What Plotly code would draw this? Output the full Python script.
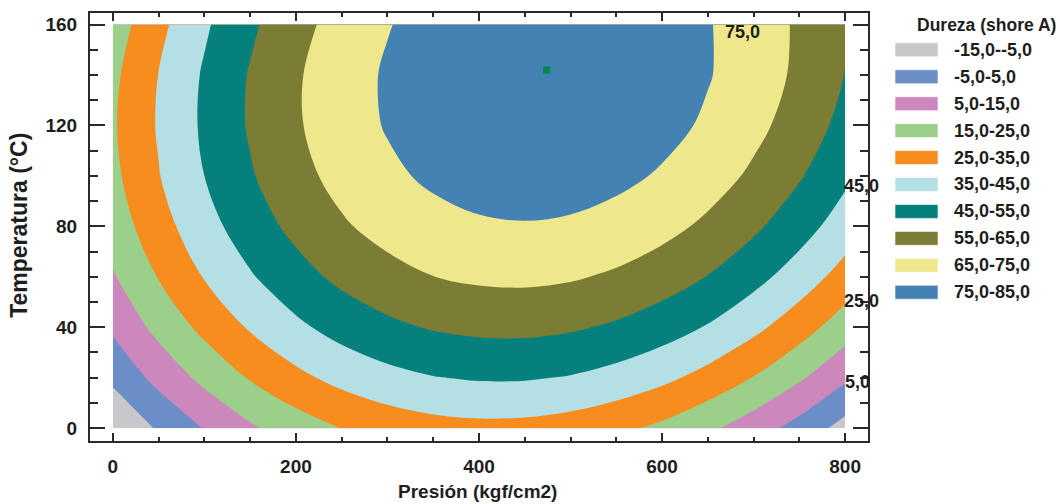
import plotly.graph_objects as go

# Response surface grid: hardness (Shore A) vs pressure and temperature
presion = [0, 50, 100, 150, 200, 250, 300, 350, 400, 450, 500, 550, 600, 650, 700, 750, 800]
temperatura = [0, 20, 40, 60, 80, 100, 120, 140, 160]
dureza = [
    [-14.4, -3.8, 5.5, 13.5, 20.0, 25.2, 29.0, 31.4, 32.4, 32.1, 30.4, 27.3, 22.9, 17.0, 9.8, 1.3, -8.7],
    [-2.8, 8.1, 17.6, 25.8, 32.6, 38.0, 42.0, 44.6, 45.9, 45.8, 44.4, 41.5, 37.3, 31.7, 24.7, 16.4, 6.7],
    [6.7, 17.9, 27.6, 36.0, 43.0, 48.7, 52.9, 55.8, 57.3, 57.5, 56.2, 53.6, 49.6, 44.3, 37.5, 29.4, 19.9],
    [14.1, 25.5, 35.5, 44.1, 51.4, 57.3, 61.7, 64.9, 66.6, 67.0, 66.0, 63.6, 59.9, 54.7, 48.2, 40.3, 31.1],
    [19.5, 31.1, 41.3, 50.2, 57.6, 63.8, 68.5, 71.8, 73.8, 74.4, 73.7, 71.5, 68.0, 63.1, 56.8, 49.2, 40.2],
    [22.7, 34.6, 45.0, 54.1, 61.8, 68.2, 73.1, 76.7, 78.9, 79.8, 79.2, 77.3, 74.0, 69.4, 63.3, 55.9, 47.1],
    [23.9, 35.9, 46.6, 56.0, 63.9, 70.5, 75.7, 79.5, 81.9, 83.0, 82.7, 81.0, 78.0, 73.6, 67.7, 60.6, 52.0],
    [22.9, 35.2, 46.1, 55.7, 63.9, 70.7, 76.1, 80.2, 82.8, 84.2, 84.1, 82.6, 79.8, 75.6, 70.1, 63.1, 54.8],
    [19.9, 32.4, 43.6, 53.3, 61.8, 68.8, 74.5, 78.8, 81.7, 83.2, 83.4, 82.2, 79.6, 75.6, 70.3, 63.6, 55.5],
]

# Band edges and band colours
niveles = [-15, -5, 5, 15, 25, 35, 45, 55, 65, 75, 85]
colores = ["#c8c8ca", "#6b8ec9", "#cc88bc", "#9ccf8a", "#f78c1f",
           "#b4e0e5", "#06807c", "#7c7d34", "#eee78b", "#4582b4"]

# Optimum point
optimo_p = [474]
optimo_t = [142]

# Contour levels that carry a label, with label anchor points
etiquetas_nivel = [75, 45, 25, 5]
etiquetas_pos = [(688, 157), (818, 96), (818, 50.5), (813, 18.3)]

FONT = "Liberation Sans, Arial, sans-serif"
INK = "#1e1e1e"


def fmt(v):
    return f"{v:.1f}".replace(".", ",")


n = len(colores)
escala = [[i / (n - 1), c] for i, c in enumerate(colores)]
paso = niveles[1] - niveles[0]

fig = go.Figure()
fig.add_trace(go.Contour(
    x=presion, y=temperatura, z=dureza,
    autocontour=False,
    contours=dict(start=niveles[1], end=niveles[-2], size=paso,
                  coloring="fill", showlines=False),
    colorscale=escala,
    line=dict(width=0, smoothing=1.0),
    showscale=False,
    hoverinfo="skip",
))
fig.add_trace(go.Scatter(
    x=optimo_p, y=optimo_t, mode="markers",
    marker=dict(symbol="square", size=7, color="#00884a"),
    showlegend=False, hoverinfo="skip",
))

annotations = []
for v, (px, py) in zip(etiquetas_nivel, etiquetas_pos):
    annotations.append(dict(x=px, y=py, xref="x", yref="y", text=fmt(v),
                            showarrow=False, xanchor="center", yanchor="middle",
                            font=dict(family=FONT, size=18, color=INK, weight="bold")))

# Axis titles
annotations.append(dict(x=0.4987, y=-0.118, xref="paper", yref="paper",
                        text="Presión (kgf/cm2)", showarrow=False,
                        xanchor="center", yanchor="middle",
                        font=dict(family=FONT, size=19, color=INK, weight="bold")))
annotations.append(dict(x=-0.0913, y=0.505, xref="paper", yref="paper",
                        text="Temperatura (°C)", showarrow=False, textangle=-90,
                        xanchor="center", yanchor="middle",
                        font=dict(family=FONT, size=23, color=INK, weight="bold")))

# Legend block
W, H = 778.0, 430.0
def xp(px):
    return (px - 90) / W
def yp(py):
    return (441 - py) / H

annotations.append(dict(x=xp(915), y=yp(23), xref="paper", yref="paper",
                        text="Dureza (shore A)", showarrow=False,
                        xanchor="left", yanchor="middle",
                        font=dict(family=FONT, size=17.5, color=INK, weight="bold")))
shapes = []
for i, c in enumerate(colores):
    cy = 48 + 27.06 * i
    shapes.append(dict(type="rect", xref="paper", yref="paper",
                       x0=xp(895), x1=xp(938), y0=yp(cy + 7), y1=yp(cy - 7),
                       fillcolor=c, line=dict(width=1, color="rgba(255,255,255,0.6)")))
    annotations.append(dict(x=xp(952), y=yp(cy), xref="paper", yref="paper",
                            text=f"{fmt(niveles[i])}-{fmt(niveles[i + 1])}",
                            showarrow=False, xanchor="left", yanchor="middle",
                            font=dict(family=FONT, size=18, color=INK, weight="bold")))

axis_common = dict(showline=True, linecolor="#2a2a2a", linewidth=2, mirror="allticks",
                   ticks="inside", tickcolor="#2a2a2a", tickwidth=2,
                   showgrid=False, zeroline=False,
                   tickfont=dict(family=FONT, size=19, color=INK, weight="bold"))

fig.update_layout(
    width=1060, height=504,
    margin=dict(l=90, r=192, t=11, b=63),
    paper_bgcolor="white", plot_bgcolor="white",
    showlegend=False,
    xaxis=dict(range=[-25, 825], tickvals=[0, 200, 400, 600, 800], ticklen=8,
               minor=dict(dtick=50, tick0=0, ticks="inside", ticklen=4,
                          tickcolor="#2a2a2a", tickwidth=1.5),
               ticklabelstandoff=7, **axis_common),
    yaxis=dict(range=[-5.1, 164.6], tickvals=[0, 40, 80, 120, 160], ticklen=15,
               minor=dict(dtick=10, tick0=0, ticks="inside", ticklen=8,
                          tickcolor="#2a2a2a", tickwidth=1.5),
               ticklabelstandoff=7, **axis_common),
    annotations=annotations,
    shapes=shapes,
)

fig.write_html("out.html")
